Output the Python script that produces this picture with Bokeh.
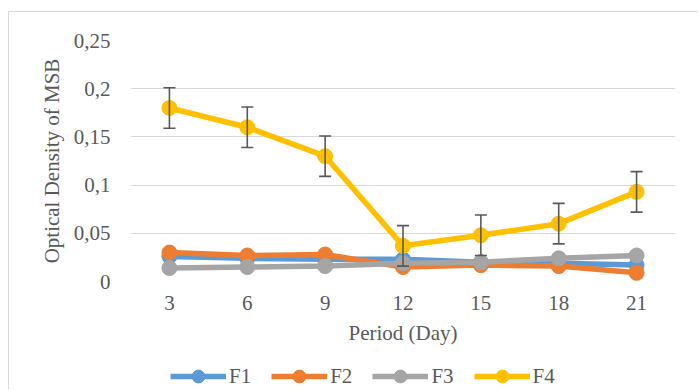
from bokeh.plotting import figure
from bokeh.layouts import column
from bokeh.models import (FixedTicker, CustomJSTickFormatter, Range1d, Whisker,
                          TeeHead, ColumnDataSource, Legend, LegendItem)
from bokeh.embed import file_html
from bokeh.resources import INLINE

# ---- data ----
days = [3, 6, 9, 12, 15, 18, 21]
f1 = [0.026, 0.024, 0.023, 0.023, 0.020, 0.019, 0.017]
f2 = [0.030, 0.027, 0.028, 0.015, 0.017, 0.016, 0.009]
f3 = [0.014, 0.015, 0.016, 0.019, 0.020, 0.024, 0.027]
f4 = [0.180, 0.160, 0.130, 0.037, 0.048, 0.060, 0.093]
f4_err = [0.021, 0.021, 0.021, 0.021, 0.021, 0.021, 0.021]
series_names = ["F1", "F2", "F3", "F4"]
y_ticks = [0, 0.05, 0.1, 0.15, 0.2, 0.25]
y_tick_labels = ["0", "0,05", "0,1", "0,15", "0,2", "0,25"]
x_title = "Period (Day)"
y_title = "Optical Density of MSB"

colors = ["#5B9BD5", "#ED7D31", "#A5A5A5", "#FFC000"]
FONT = "Liberation Serif"
FS = "21px"
TXT = "#595959"
series = [f1, f2, f3, f4]

# ---- main chart ----
p = figure(width=690, height=343, output_backend="svg", toolbar_location=None,
           x_range=Range1d(1.5, 22.5), y_range=Range1d(0, 0.25),
           min_border_left=121, min_border_right=24, min_border_top=28,
           min_border_bottom=74)
p.outline_line_color = None
p.background_fill_color = "white"
p.border_fill_color = "white"

p.xaxis.ticker = FixedTicker(ticks=days)
p.yaxis.ticker = FixedTicker(ticks=y_ticks)
p.yaxis.formatter = CustomJSTickFormatter(args=dict(tvals=y_ticks, tlabels=y_tick_labels), code="""
    let best = 0; let d = 1e9;
    for (let i = 0; i < tvals.length; i++) {
        const dd = Math.abs(tvals[i] - tick);
        if (dd < d) { d = dd; best = i; }
    }
    return tlabels[best];
""")
for ax in (p.xaxis[0], p.yaxis[0]):
    ax.axis_line_color = None
    ax.major_tick_line_color = None
    ax.minor_tick_line_color = None
    ax.major_tick_out = 0
    ax.major_tick_in = 0
    ax.major_label_text_font = FONT
    ax.major_label_text_font_size = FS
    ax.major_label_text_color = TXT
    ax.axis_label_text_font = FONT
    ax.axis_label_text_font_size = FS
    ax.axis_label_text_color = TXT
    ax.axis_label_text_font_style = "normal"
p.xaxis.axis_label = x_title
p.yaxis.axis_label = y_title
p.xaxis.major_label_standoff = 14
p.xaxis.axis_label_standoff = 8
p.yaxis.major_label_standoff = 20
p.yaxis.axis_label_standoff = 7

p.xgrid.grid_line_color = None
p.ygrid.grid_line_color = "#D9D9D9"
p.ygrid.grid_line_width = 1.2

# error bars for F4
lower = [v - e for v, e in zip(f4, f4_err)]
upper = [v + e for v, e in zip(f4, f4_err)]
esrc = ColumnDataSource(dict(x=days, lower=lower, upper=upper))
w = Whisker(source=esrc, base="x", lower="lower", upper="upper",
            line_color="#595959", line_width=1.6, level="glyph",
            upper_head=TeeHead(size=12, line_color="#595959", line_width=1.6),
            lower_head=TeeHead(size=12, line_color="#595959", line_width=1.6))
p.add_layout(w)

for ys, c in zip(series, colors):
    src = ColumnDataSource(dict(x=days, y=ys))
    p.line("x", "y", source=src, line_color=c, line_width=5.5)
    p.scatter("x", "y", source=src, size=15, marker="circle",
              fill_color=c, line_color=c)

# ---- legend strip (same series, drawn outside its view so only the legend shows) ----
q = figure(width=690, height=35, output_backend="svg", toolbar_location=None,
           x_range=Range1d(100, 101), y_range=Range1d(100, 101),
           x_axis_location=None, y_axis_location=None,
           min_border_left=0, min_border_right=0, min_border_top=0,
           min_border_bottom=0)
q.outline_line_color = None
q.grid.visible = False
q.border_fill_color = "white"

items = []
for name, ys, c in zip(series_names, series, colors):
    src = ColumnDataSource(dict(x=days, y=ys))
    r1 = q.line("x", "y", source=src, line_color=c, line_width=5.5)
    r2 = q.scatter("x", "y", source=src, size=15, marker="circle",
                   fill_color=c, line_color=c)
    items.append(LegendItem(label=name, renderers=[r1, r2]))

# the column aligns this strip's frame with the main frame (left edge at 121px)
legend = Legend(items=items, orientation="horizontal", location=(40, -2),
                glyph_width=56, glyph_height=32, label_standoff=3, spacing=20,
                padding=0, margin=0, border_line_color=None,
                background_fill_alpha=0,
                label_text_font=FONT, label_text_font_size=FS,
                label_text_color=TXT)
q.add_layout(legend, "center")

layout = column(p, q, spacing=0)
layout.margin = (12, 0, 0, 9)
layout.styles = {"box-shadow": "-1px -1px 0 0 #D9D9D9"}

open("out.html", "w").write(file_html(layout, INLINE))
